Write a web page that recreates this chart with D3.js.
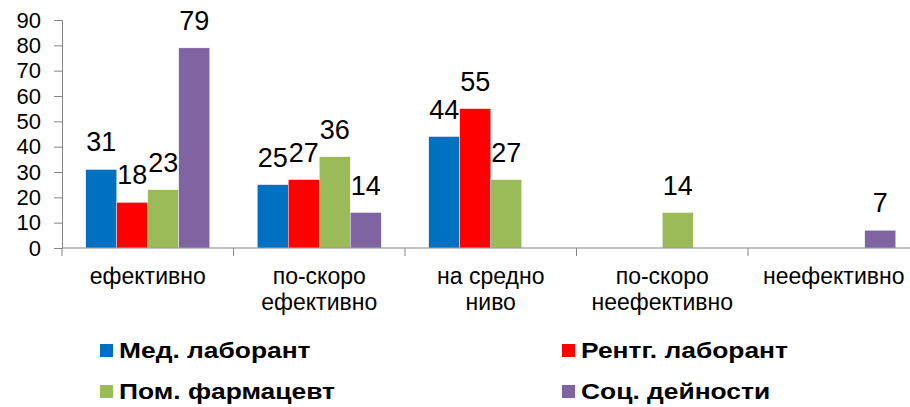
<!DOCTYPE html>
<html>
<head>
<meta charset="utf-8">
<script src="https://cdn.jsdelivr.net/npm/d3@7"></script>
<style>
  body { margin: 0; background: #fff; }
  svg { display: block; font-family: Arial, "Liberation Sans", sans-serif; }
</style>
</head>
<body>
<svg width="910" height="407"></svg>
<script>
const categories = [["ефективно"], ["по-скоро", "ефективно"], ["на средно", "ниво"], ["по-скоро", "неефективно"], ["неефективно"]];
const seriesNames = ["Мед. лаборант", "Рентг. лаборант", "Пом. фармацевт", "Соц. дейности"];
const seriesColors = ["#0070C0", "#FF0000", "#9BBB59", "#8064A2"];
const medLab = [31, 25, 44, null, null];
const rentLab = [18, 27, 55, null, null];
const pomFarm = [23, 36, 27, 14, null];
const socDein = [79, 14, null, null, 7];
const yTicks = [0, 10, 20, 30, 40, 50, 60, 70, 80, 90];

const values = [medLab, rentLab, pomFarm, socDein];
const svg = d3.select("svg");

const plotLeft = 62, plotRight = 919.5, plotTop = 20, plotBottom = 248;
const catIds = categories.map((c, i) => i);

const x0 = d3.scaleBand().domain(catIds).range([plotLeft, plotRight]).padding(0);
const gap = (x0.bandwidth() - 124) / 2;
const x1 = d3.scaleBand().domain(d3.range(seriesNames.length)).range([gap, x0.bandwidth() - gap]);
const y = d3.scaleLinear().domain([0, 90]).range([plotBottom, plotTop]);

// y axis
const yAxis = svg.append("g")
  .attr("transform", `translate(${plotLeft},0)`)
  .call(d3.axisLeft(y).tickValues(yTicks).tickSize(8).tickPadding(13));
yAxis.select(".domain").attr("stroke", "#868686");
yAxis.selectAll(".tick line").attr("stroke", "#868686");
yAxis.selectAll(".tick text")
  .attr("font-size", 22)
  .attr("fill", "#000")
  .attr("font-family", "Arial, 'Liberation Sans', sans-serif");

// bars
const groups = svg.append("g").selectAll("g")
  .data(catIds)
  .enter()
  .append("g")
  .attr("transform", d => `translate(${x0(d)},0)`);

groups.selectAll("rect")
  .data(ci => values.map((s, si) => ({ si, v: s[ci] })).filter(d => d.v != null))
  .enter()
  .append("rect")
  .attr("x", d => x1(d.si))
  .attr("width", x1.bandwidth())
  .attr("y", d => y(d.v))
  .attr("height", d => y(0) - y(d.v))
  .attr("fill", d => seriesColors[d.si])
  .attr("stroke", "#fff")
  .attr("stroke-width", 0.4);

groups.selectAll("text.val")
  .data(ci => values.map((s, si) => ({ si, v: s[ci] })).filter(d => d.v != null))
  .enter()
  .append("text")
  .attr("class", "val")
  .attr("x", d => x1(d.si) + x1.bandwidth() / 2)
  .attr("y", d => y(d.v) - 18)
  .attr("text-anchor", "middle")
  .attr("font-size", 27)
  .attr("fill", "#000")
  .text(d => d.v);

// x axis
const xAxis = svg.append("g")
  .attr("transform", `translate(0,${plotBottom})`);
xAxis.append("line")
  .attr("x1", plotLeft).attr("x2", plotRight)
  .attr("stroke", "#868686");
xAxis.selectAll("line.tick")
  .data(catIds.concat([catIds.length]))
  .enter()
  .append("line")
  .attr("class", "tick")
  .attr("x1", d => plotLeft + d * x0.step())
  .attr("x2", d => plotLeft + d * x0.step())
  .attr("y1", 0).attr("y2", 8)
  .attr("stroke", "#868686");

const catLabels = xAxis.selectAll("text.cat")
  .data(catIds)
  .enter()
  .append("text")
  .attr("class", "cat")
  .attr("text-anchor", "middle")
  .attr("font-size", 23)
  .attr("fill", "#000");
catLabels.selectAll("tspan")
  .data(ci => categories[ci].map(t => ({ ci, t })))
  .enter()
  .append("tspan")
  .attr("x", d => x0(d.ci) + x0.bandwidth() / 2)
  .attr("y", (d, i) => 36 + i * 26)
  .text(d => d.t);

// legend
const legendPos = [[100, 350.5], [562, 350.5], [100, 391.5], [562, 391.5]];
const legend = svg.append("g").selectAll("g")
  .data(seriesNames)
  .enter()
  .append("g")
  .attr("transform", (d, i) => `translate(${legendPos[i][0]},${legendPos[i][1]})`);
legend.append("rect")
  .attr("x", 0).attr("y", -6.5)
  .attr("width", 13).attr("height", 13)
  .attr("fill", (d, i) => seriesColors[i]);
legend.append("text")
  .attr("transform", "translate(19,7) scale(1.2,1)")
  .attr("font-size", 22)
  .attr("font-weight", "bold")
  .attr("fill", "#000")
  .text(d => d);
</script>
</body>
</html>
